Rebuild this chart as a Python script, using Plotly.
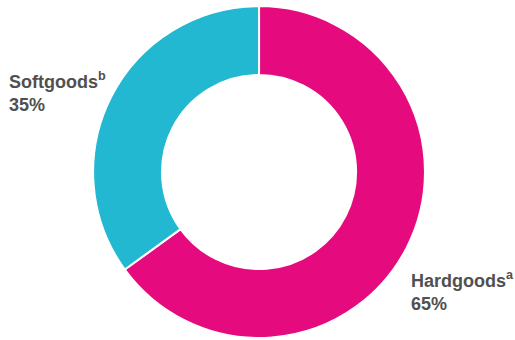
import plotly.graph_objects as go

categories = ["Hardgoods", "Softgoods"]
values = [65, 35]
superscripts = ["a", "b"]
colors = ["#E50B7E", "#22B8D2"]

fig = go.Figure(go.Pie(
    labels=categories, values=values, sort=False, direction="clockwise", rotation=0,
    hole=0.585, marker=dict(colors=colors, line=dict(color="white", width=2)),
    textinfo="none", hoverinfo="label+percent", showlegend=False,
    domain=dict(x=[0.18, 0.826], y=[0.006, 0.982]),
))

positions = {"Hardgoods": (409, 266), "Softgoods": (7, 67)}
for c, v, s in zip(categories, values, superscripts):
    x, y = positions[c]
    fig.add_annotation(
        x=x / 515, y=1 - y / 340, xref="paper", yref="paper", xanchor="left", yanchor="top",
        align="left", showarrow=False,
        text=f"<b>{c}<sup>{s}</sup><br>{v}%</b>",
        font=dict(family="Liberation Sans, Arial, sans-serif", size=18, color="#505050"),
    )

fig.update_layout(width=515, height=340, margin=dict(l=0, r=0, t=0, b=0),
                  paper_bgcolor="white", plot_bgcolor="white")
fig.write_html("out.html")
